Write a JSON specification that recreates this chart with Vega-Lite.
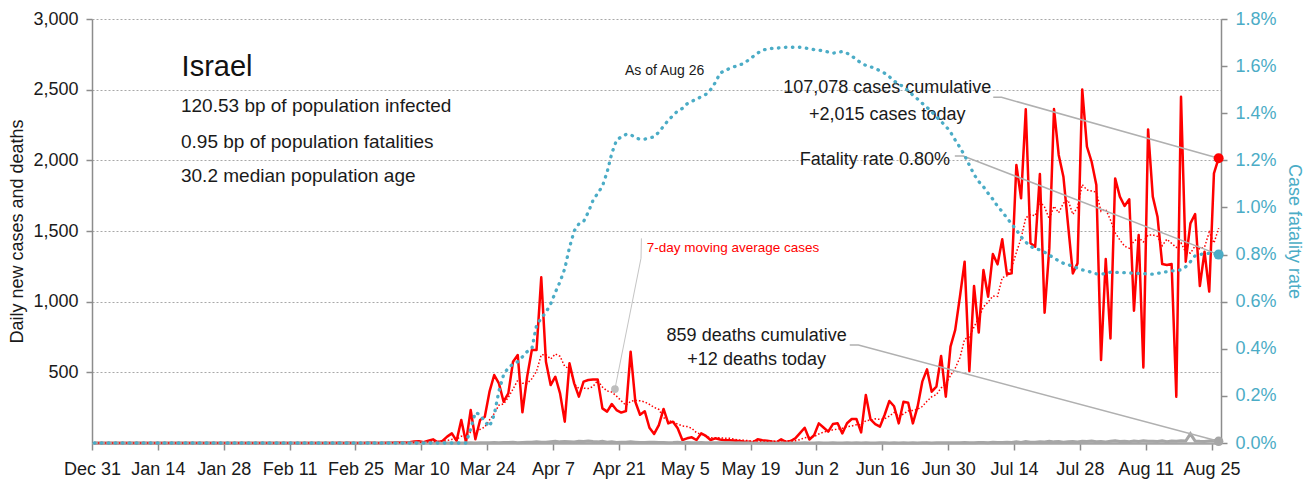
{
"$schema": "https://vega.github.io/schema/vega-lite/v6.json",
"width": 1129, "height": 424,
"autosize": {"type": "none"},
"padding": {"left": 92, "top": 19, "right": 91, "bottom": 42},
"background": "white",
"config": {"font": "Liberation Sans", "view": {"stroke": null}},
"datasets": {
"daily": [
{"date":"2019-12-31T12:00Z","cases":0,"deaths":0,"cfr":0},
{"date":"2020-01-01T12:00Z","cases":0,"deaths":0,"cfr":0},
{"date":"2020-01-02T12:00Z","cases":0,"deaths":0,"cfr":0},
{"date":"2020-01-03T12:00Z","cases":0,"deaths":0,"cfr":0},
{"date":"2020-01-04T12:00Z","cases":0,"deaths":0,"cfr":0},
{"date":"2020-01-05T12:00Z","cases":0,"deaths":0,"cfr":0},
{"date":"2020-01-06T12:00Z","cases":0,"deaths":0,"cfr":0},
{"date":"2020-01-07T12:00Z","cases":0,"deaths":0,"cfr":0},
{"date":"2020-01-08T12:00Z","cases":0,"deaths":0,"cfr":0},
{"date":"2020-01-09T12:00Z","cases":0,"deaths":0,"cfr":0},
{"date":"2020-01-10T12:00Z","cases":0,"deaths":0,"cfr":0},
{"date":"2020-01-11T12:00Z","cases":0,"deaths":0,"cfr":0},
{"date":"2020-01-12T12:00Z","cases":0,"deaths":0,"cfr":0},
{"date":"2020-01-13T12:00Z","cases":0,"deaths":0,"cfr":0},
{"date":"2020-01-14T12:00Z","cases":0,"deaths":0,"cfr":0},
{"date":"2020-01-15T12:00Z","cases":0,"deaths":0,"cfr":0},
{"date":"2020-01-16T12:00Z","cases":0,"deaths":0,"cfr":0},
{"date":"2020-01-17T12:00Z","cases":0,"deaths":0,"cfr":0},
{"date":"2020-01-18T12:00Z","cases":0,"deaths":0,"cfr":0},
{"date":"2020-01-19T12:00Z","cases":0,"deaths":0,"cfr":0},
{"date":"2020-01-20T12:00Z","cases":0,"deaths":0,"cfr":0},
{"date":"2020-01-21T12:00Z","cases":0,"deaths":0,"cfr":0},
{"date":"2020-01-22T12:00Z","cases":0,"deaths":0,"cfr":0},
{"date":"2020-01-23T12:00Z","cases":0,"deaths":0,"cfr":0},
{"date":"2020-01-24T12:00Z","cases":0,"deaths":0,"cfr":0},
{"date":"2020-01-25T12:00Z","cases":0,"deaths":0,"cfr":0},
{"date":"2020-01-26T12:00Z","cases":0,"deaths":0,"cfr":0},
{"date":"2020-01-27T12:00Z","cases":0,"deaths":0,"cfr":0},
{"date":"2020-01-28T12:00Z","cases":0,"deaths":0,"cfr":0},
{"date":"2020-01-29T12:00Z","cases":0,"deaths":0,"cfr":0},
{"date":"2020-01-30T12:00Z","cases":0,"deaths":0,"cfr":0},
{"date":"2020-01-31T12:00Z","cases":0,"deaths":0,"cfr":0},
{"date":"2020-02-01T12:00Z","cases":0,"deaths":0,"cfr":0},
{"date":"2020-02-02T12:00Z","cases":0,"deaths":0,"cfr":0},
{"date":"2020-02-03T12:00Z","cases":0,"deaths":0,"cfr":0},
{"date":"2020-02-04T12:00Z","cases":0,"deaths":0,"cfr":0},
{"date":"2020-02-05T12:00Z","cases":0,"deaths":0,"cfr":0},
{"date":"2020-02-06T12:00Z","cases":0,"deaths":0,"cfr":0},
{"date":"2020-02-07T12:00Z","cases":0,"deaths":0,"cfr":0},
{"date":"2020-02-08T12:00Z","cases":0,"deaths":0,"cfr":0},
{"date":"2020-02-09T12:00Z","cases":0,"deaths":0,"cfr":0},
{"date":"2020-02-10T12:00Z","cases":0,"deaths":0,"cfr":0},
{"date":"2020-02-11T12:00Z","cases":0,"deaths":0,"cfr":0},
{"date":"2020-02-12T12:00Z","cases":0,"deaths":0,"cfr":0},
{"date":"2020-02-13T12:00Z","cases":0,"deaths":0,"cfr":0},
{"date":"2020-02-14T12:00Z","cases":0,"deaths":0,"cfr":0},
{"date":"2020-02-15T12:00Z","cases":0,"deaths":0,"cfr":0},
{"date":"2020-02-16T12:00Z","cases":0,"deaths":0,"cfr":0},
{"date":"2020-02-17T12:00Z","cases":0,"deaths":0,"cfr":0},
{"date":"2020-02-18T12:00Z","cases":0,"deaths":0,"cfr":0},
{"date":"2020-02-19T12:00Z","cases":0,"deaths":0,"cfr":0},
{"date":"2020-02-20T12:00Z","cases":0,"deaths":0,"cfr":0},
{"date":"2020-02-21T12:00Z","cases":1,"deaths":0,"cfr":0},
{"date":"2020-02-22T12:00Z","cases":0,"deaths":0,"cfr":0},
{"date":"2020-02-23T12:00Z","cases":1,"deaths":0,"cfr":0},
{"date":"2020-02-24T12:00Z","cases":0,"deaths":0,"cfr":0},
{"date":"2020-02-25T12:00Z","cases":0,"deaths":0,"cfr":0},
{"date":"2020-02-26T12:00Z","cases":0,"deaths":0,"cfr":0},
{"date":"2020-02-27T12:00Z","cases":1,"deaths":0,"cfr":0},
{"date":"2020-02-28T12:00Z","cases":2,"deaths":0,"cfr":0},
{"date":"2020-02-29T12:00Z","cases":0,"deaths":0,"cfr":0},
{"date":"2020-03-01T12:00Z","cases":0,"deaths":0,"cfr":0},
{"date":"2020-03-02T12:00Z","cases":2,"deaths":0,"cfr":0},
{"date":"2020-03-03T12:00Z","cases":2,"deaths":0,"cfr":0},
{"date":"2020-03-04T12:00Z","cases":3,"deaths":0,"cfr":0},
{"date":"2020-03-05T12:00Z","cases":4,"deaths":0,"cfr":0},
{"date":"2020-03-06T12:00Z","cases":3,"deaths":0,"cfr":0},
{"date":"2020-03-07T12:00Z","cases":6,"deaths":0,"cfr":0},
{"date":"2020-03-08T12:00Z","cases":10,"deaths":0,"cfr":0},
{"date":"2020-03-09T12:00Z","cases":12,"deaths":0,"cfr":0},
{"date":"2020-03-10T12:00Z","cases":5,"deaths":0,"cfr":0},
{"date":"2020-03-11T12:00Z","cases":16,"deaths":0,"cfr":0},
{"date":"2020-03-12T12:00Z","cases":26,"deaths":0,"cfr":0},
{"date":"2020-03-13T12:00Z","cases":5,"deaths":0,"cfr":0},
{"date":"2020-03-14T12:00Z","cases":14,"deaths":0,"cfr":0},
{"date":"2020-03-15T12:00Z","cases":45,"deaths":0,"cfr":0},
{"date":"2020-03-16T12:00Z","cases":68,"deaths":0,"cfr":0},
{"date":"2020-03-17T12:00Z","cases":15,"deaths":0,"cfr":0},
{"date":"2020-03-18T12:00Z","cases":163,"deaths":0,"cfr":0},
{"date":"2020-03-19T12:00Z","cases":5,"deaths":0,"cfr":0},
{"date":"2020-03-20T12:00Z","cases":233,"deaths":1,"cfr":0.06},
{"date":"2020-03-21T12:00Z","cases":26,"deaths":0,"cfr":0.13},
{"date":"2020-03-22T12:00Z","cases":163,"deaths":1,"cfr":0.12},
{"date":"2020-03-23T12:00Z","cases":186,"deaths":2,"cfr":0.09},
{"date":"2020-03-24T12:00Z","cases":363,"deaths":2,"cfr":0.07},
{"date":"2020-03-25T12:00Z","cases":481,"deaths":3,"cfr":0.12},
{"date":"2020-03-26T12:00Z","cases":422,"deaths":2,"cfr":0.22},
{"date":"2020-03-27T12:00Z","cases":292,"deaths":4,"cfr":0.29},
{"date":"2020-03-28T12:00Z","cases":351,"deaths":3,"cfr":0.32},
{"date":"2020-03-29T12:00Z","cases":575,"deaths":5,"cfr":0.335},
{"date":"2020-03-30T12:00Z","cases":623,"deaths":2,"cfr":0.345},
{"date":"2020-03-31T12:00Z","cases":217,"deaths":4,"cfr":0.366},
{"date":"2020-04-01T12:00Z","cases":469,"deaths":6,"cfr":0.388},
{"date":"2020-04-02T12:00Z","cases":658,"deaths":5,"cfr":0.4},
{"date":"2020-04-03T12:00Z","cases":658,"deaths":9,"cfr":0.5},
{"date":"2020-04-04T12:00Z","cases":1172,"deaths":5,"cfr":0.53},
{"date":"2020-04-05T12:00Z","cases":575,"deaths":6,"cfr":0.555},
{"date":"2020-04-06T12:00Z","cases":410,"deaths":9,"cfr":0.59},
{"date":"2020-04-07T12:00Z","cases":469,"deaths":12,"cfr":0.64},
{"date":"2020-04-08T12:00Z","cases":351,"deaths":8,"cfr":0.685},
{"date":"2020-04-09T12:00Z","cases":151,"deaths":10,"cfr":0.74},
{"date":"2020-04-10T12:00Z","cases":564,"deaths":9,"cfr":0.83},
{"date":"2020-04-11T12:00Z","cases":422,"deaths":7,"cfr":0.9},
{"date":"2020-04-12T12:00Z","cases":328,"deaths":12,"cfr":0.93},
{"date":"2020-04-13T12:00Z","cases":434,"deaths":10,"cfr":0.94},
{"date":"2020-04-14T12:00Z","cases":446,"deaths":14,"cfr":0.98},
{"date":"2020-04-15T12:00Z","cases":450,"deaths":10,"cfr":1.03},
{"date":"2020-04-16T12:00Z","cases":450,"deaths":8,"cfr":1.06},
{"date":"2020-04-17T12:00Z","cases":245,"deaths":12,"cfr":1.09},
{"date":"2020-04-18T12:00Z","cases":222,"deaths":6,"cfr":1.15},
{"date":"2020-04-19T12:00Z","cases":276,"deaths":9,"cfr":1.23},
{"date":"2020-04-20T12:00Z","cases":233,"deaths":4,"cfr":1.285},
{"date":"2020-04-21T12:00Z","cases":215,"deaths":5,"cfr":1.3},
{"date":"2020-04-22T12:00Z","cases":226,"deaths":5,"cfr":1.31},
{"date":"2020-04-23T12:00Z","cases":646,"deaths":8,"cfr":1.31},
{"date":"2020-04-24T12:00Z","cases":292,"deaths":6,"cfr":1.295},
{"date":"2020-04-25T12:00Z","cases":200,"deaths":4,"cfr":1.29},
{"date":"2020-04-26T12:00Z","cases":225,"deaths":4,"cfr":1.29},
{"date":"2020-04-27T12:00Z","cases":108,"deaths":5,"cfr":1.295},
{"date":"2020-04-28T12:00Z","cases":64,"deaths":6,"cfr":1.3},
{"date":"2020-04-29T12:00Z","cases":127,"deaths":3,"cfr":1.32},
{"date":"2020-04-30T12:00Z","cases":241,"deaths":4,"cfr":1.345},
{"date":"2020-05-01T12:00Z","cases":139,"deaths":2,"cfr":1.37},
{"date":"2020-05-02T12:00Z","cases":151,"deaths":3,"cfr":1.39},
{"date":"2020-05-03T12:00Z","cases":104,"deaths":5,"cfr":1.41},
{"date":"2020-05-04T12:00Z","cases":21,"deaths":1,"cfr":1.42},
{"date":"2020-05-05T12:00Z","cases":33,"deaths":3,"cfr":1.44},
{"date":"2020-05-06T12:00Z","cases":40,"deaths":2,"cfr":1.45},
{"date":"2020-05-07T12:00Z","cases":21,"deaths":2,"cfr":1.46},
{"date":"2020-05-08T12:00Z","cases":68,"deaths":3,"cfr":1.47},
{"date":"2020-05-09T12:00Z","cases":50,"deaths":1,"cfr":1.48},
{"date":"2020-05-10T12:00Z","cases":21,"deaths":1,"cfr":1.5},
{"date":"2020-05-11T12:00Z","cases":33,"deaths":1,"cfr":1.53},
{"date":"2020-05-12T12:00Z","cases":25,"deaths":2,"cfr":1.57},
{"date":"2020-05-13T12:00Z","cases":20,"deaths":1,"cfr":1.58},
{"date":"2020-05-14T12:00Z","cases":20,"deaths":1,"cfr":1.59},
{"date":"2020-05-15T12:00Z","cases":18,"deaths":0,"cfr":1.597},
{"date":"2020-05-16T12:00Z","cases":14,"deaths":1,"cfr":1.605},
{"date":"2020-05-17T12:00Z","cases":10,"deaths":0,"cfr":1.61},
{"date":"2020-05-18T12:00Z","cases":8,"deaths":1,"cfr":1.625},
{"date":"2020-05-19T12:00Z","cases":5,"deaths":1,"cfr":1.64},
{"date":"2020-05-20T12:00Z","cases":26,"deaths":0,"cfr":1.655},
{"date":"2020-05-21T12:00Z","cases":19,"deaths":1,"cfr":1.668},
{"date":"2020-05-22T12:00Z","cases":16,"deaths":0,"cfr":1.672},
{"date":"2020-05-23T12:00Z","cases":10,"deaths":0,"cfr":1.675},
{"date":"2020-05-24T12:00Z","cases":5,"deaths":1,"cfr":1.676},
{"date":"2020-05-25T12:00Z","cases":26,"deaths":0,"cfr":1.678},
{"date":"2020-05-26T12:00Z","cases":8,"deaths":0,"cfr":1.68},
{"date":"2020-05-27T12:00Z","cases":14,"deaths":1,"cfr":1.68},
{"date":"2020-05-28T12:00Z","cases":33,"deaths":0,"cfr":1.68},
{"date":"2020-05-29T12:00Z","cases":70,"deaths":0,"cfr":1.68},
{"date":"2020-05-30T12:00Z","cases":108,"deaths":1,"cfr":1.677},
{"date":"2020-05-31T12:00Z","cases":25,"deaths":0,"cfr":1.674},
{"date":"2020-06-01T12:00Z","cases":55,"deaths":0,"cfr":1.67},
{"date":"2020-06-02T12:00Z","cases":139,"deaths":1,"cfr":1.668},
{"date":"2020-06-03T12:00Z","cases":110,"deaths":0,"cfr":1.664},
{"date":"2020-06-04T12:00Z","cases":80,"deaths":0,"cfr":1.66},
{"date":"2020-06-05T12:00Z","cases":134,"deaths":1,"cfr":1.655},
{"date":"2020-06-06T12:00Z","cases":140,"deaths":0,"cfr":1.658},
{"date":"2020-06-07T12:00Z","cases":68,"deaths":0,"cfr":1.662},
{"date":"2020-06-08T12:00Z","cases":140,"deaths":1,"cfr":1.655},
{"date":"2020-06-09T12:00Z","cases":170,"deaths":0,"cfr":1.643},
{"date":"2020-06-10T12:00Z","cases":170,"deaths":1,"cfr":1.628},
{"date":"2020-06-11T12:00Z","cases":75,"deaths":0,"cfr":1.613},
{"date":"2020-06-12T12:00Z","cases":340,"deaths":1,"cfr":1.603},
{"date":"2020-06-13T12:00Z","cases":167,"deaths":0,"cfr":1.597},
{"date":"2020-06-14T12:00Z","cases":134,"deaths":0,"cfr":1.59},
{"date":"2020-06-15T12:00Z","cases":116,"deaths":1,"cfr":1.58},
{"date":"2020-06-16T12:00Z","cases":200,"deaths":1,"cfr":1.57},
{"date":"2020-06-17T12:00Z","cases":297,"deaths":0,"cfr":1.555},
{"date":"2020-06-18T12:00Z","cases":260,"deaths":1,"cfr":1.537},
{"date":"2020-06-19T12:00Z","cases":139,"deaths":0,"cfr":1.523},
{"date":"2020-06-20T12:00Z","cases":292,"deaths":1,"cfr":1.513},
{"date":"2020-06-21T12:00Z","cases":285,"deaths":0,"cfr":1.495},
{"date":"2020-06-22T12:00Z","cases":139,"deaths":1,"cfr":1.477},
{"date":"2020-06-23T12:00Z","cases":257,"deaths":0,"cfr":1.46},
{"date":"2020-06-24T12:00Z","cases":434,"deaths":1,"cfr":1.442},
{"date":"2020-06-25T12:00Z","cases":521,"deaths":1,"cfr":1.425},
{"date":"2020-06-26T12:00Z","cases":363,"deaths":0,"cfr":1.406},
{"date":"2020-06-27T12:00Z","cases":399,"deaths":1,"cfr":1.385},
{"date":"2020-06-28T12:00Z","cases":616,"deaths":1,"cfr":1.365},
{"date":"2020-06-29T12:00Z","cases":328,"deaths":2,"cfr":1.345},
{"date":"2020-06-30T12:00Z","cases":682,"deaths":1,"cfr":1.32},
{"date":"2020-07-01T12:00Z","cases":800,"deaths":2,"cfr":1.286},
{"date":"2020-07-02T12:00Z","cases":1035,"deaths":1,"cfr":1.255},
{"date":"2020-07-03T12:00Z","cases":1283,"deaths":3,"cfr":1.22},
{"date":"2020-07-04T12:00Z","cases":509,"deaths":2,"cfr":1.18},
{"date":"2020-07-05T12:00Z","cases":1111,"deaths":1,"cfr":1.14},
{"date":"2020-07-06T12:00Z","cases":781,"deaths":3,"cfr":1.11},
{"date":"2020-07-07T12:00Z","cases":1224,"deaths":4,"cfr":1.088},
{"date":"2020-07-08T12:00Z","cases":1035,"deaths":2,"cfr":1.06},
{"date":"2020-07-09T12:00Z","cases":1337,"deaths":5,"cfr":1.035},
{"date":"2020-07-10T12:00Z","cases":1264,"deaths":3,"cfr":1.005},
{"date":"2020-07-11T12:00Z","cases":1441,"deaths":4,"cfr":0.982},
{"date":"2020-07-12T12:00Z","cases":1193,"deaths":6,"cfr":0.955},
{"date":"2020-07-13T12:00Z","cases":1200,"deaths":3,"cfr":0.93},
{"date":"2020-07-14T12:00Z","cases":1967,"deaths":8,"cfr":0.905},
{"date":"2020-07-15T12:00Z","cases":1731,"deaths":4,"cfr":0.875},
{"date":"2020-07-16T12:00Z","cases":2361,"deaths":10,"cfr":0.853},
{"date":"2020-07-17T12:00Z","cases":1413,"deaths":6,"cfr":0.835},
{"date":"2020-07-18T12:00Z","cases":1389,"deaths":5,"cfr":0.825},
{"date":"2020-07-19T12:00Z","cases":1903,"deaths":9,"cfr":0.82},
{"date":"2020-07-20T12:00Z","cases":922,"deaths":7,"cfr":0.81},
{"date":"2020-07-21T12:00Z","cases":1377,"deaths":12,"cfr":0.798},
{"date":"2020-07-22T12:00Z","cases":2363,"deaths":8,"cfr":0.785},
{"date":"2020-07-23T12:00Z","cases":2038,"deaths":10,"cfr":0.773},
{"date":"2020-07-24T12:00Z","cases":1884,"deaths":6,"cfr":0.763},
{"date":"2020-07-25T12:00Z","cases":1540,"deaths":9,"cfr":0.757},
{"date":"2020-07-26T12:00Z","cases":1200,"deaths":11,"cfr":0.75},
{"date":"2020-07-27T12:00Z","cases":1271,"deaths":7,"cfr":0.742},
{"date":"2020-07-28T12:00Z","cases":2502,"deaths":12,"cfr":0.735},
{"date":"2020-07-29T12:00Z","cases":2097,"deaths":10,"cfr":0.731},
{"date":"2020-07-30T12:00Z","cases":1990,"deaths":14,"cfr":0.724},
{"date":"2020-07-31T12:00Z","cases":1825,"deaths":9,"cfr":0.718},
{"date":"2020-08-01T12:00Z","cases":587,"deaths":11,"cfr":0.716},
{"date":"2020-08-02T12:00Z","cases":1302,"deaths":8,"cfr":0.72},
{"date":"2020-08-03T12:00Z","cases":740,"deaths":12,"cfr":0.725},
{"date":"2020-08-04T12:00Z","cases":1872,"deaths":15,"cfr":0.725},
{"date":"2020-08-05T12:00Z","cases":1743,"deaths":10,"cfr":0.724},
{"date":"2020-08-06T12:00Z","cases":1677,"deaths":13,"cfr":0.723},
{"date":"2020-08-07T12:00Z","cases":1724,"deaths":9,"cfr":0.722},
{"date":"2020-08-08T12:00Z","cases":936,"deaths":14,"cfr":0.721},
{"date":"2020-08-09T12:00Z","cases":1472,"deaths":11,"cfr":0.72},
{"date":"2020-08-10T12:00Z","cases":535,"deaths":16,"cfr":0.719},
{"date":"2020-08-11T12:00Z","cases":2219,"deaths":12,"cfr":0.718},
{"date":"2020-08-12T12:00Z","cases":1743,"deaths":13,"cfr":0.717},
{"date":"2020-08-13T12:00Z","cases":1601,"deaths":10,"cfr":0.72},
{"date":"2020-08-14T12:00Z","cases":1266,"deaths":15,"cfr":0.724},
{"date":"2020-08-15T12:00Z","cases":1259,"deaths":9,"cfr":0.727},
{"date":"2020-08-16T12:00Z","cases":1266,"deaths":14,"cfr":0.73},
{"date":"2020-08-17T12:00Z","cases":328,"deaths":12,"cfr":0.732},
{"date":"2020-08-18T12:00Z","cases":2450,"deaths":16,"cfr":0.735},
{"date":"2020-08-19T12:00Z","cases":1283,"deaths":14,"cfr":0.748},
{"date":"2020-08-20T12:00Z","cases":1554,"deaths":65,"cfr":0.77},
{"date":"2020-08-21T12:00Z","cases":1620,"deaths":14,"cfr":0.795},
{"date":"2020-08-22T12:00Z","cases":1111,"deaths":12,"cfr":0.8},
{"date":"2020-08-23T12:00Z","cases":1354,"deaths":11,"cfr":0.804},
{"date":"2020-08-24T12:00Z","cases":1071,"deaths":15,"cfr":0.805},
{"date":"2020-08-25T12:00Z","cases":1908,"deaths":18,"cfr":0.803},
{"date":"2020-08-26T12:00Z","cases":2015,"deaths":12,"cfr":0.8}
],
"ann": [
{"k":"title","t":"Israel","date":"2020-01-19T01:00Z","v":2597},
{"k":"stat","t":"120.53 bp of population infected","date":"2020-01-18T22:00Z","v":2340},
{"k":"stat","t":"0.95 bp of population fatalities","date":"2020-01-18T22:00Z","v":2085},
{"k":"stat","t":"30.2 median population age","date":"2020-01-18T22:00Z","v":1849},
{"k":"asof","t":"As of Aug 26","date":"2020-04-22T07:00Z","v":2604},
{"k":"center","t":"107,078 cases cumulative","date":"2020-06-17T01:00Z","v":2476},
{"k":"center","t":"+2,015 cases today","date":"2020-06-17T01:00Z","v":2285},
{"k":"center","t":"859 deaths cumulative","date":"2020-05-20T07:00Z","v":724},
{"k":"center","t":"+12 deaths today","date":"2020-05-20T07:00Z","v":552},
{"k":"right","t":"Fatality rate 0.80%","date":"2020-06-30T09:00Z","v":1967},
{"k":"ma","t":"7-day moving average cases","date":"2020-04-26T22:00Z","v":1353},
{"k":"conn","g":1,"o":1,"date":"2020-07-09T14:00Z","v":2446},
{"k":"conn","g":1,"o":2,"date":"2020-07-11T08:00Z","v":2446},
{"k":"conn","g":1,"o":3,"date":"2020-08-26T12:00Z","v":2015},
{"k":"conn","g":2,"o":1,"date":"2020-07-01T10:00Z","v":2031},
{"k":"conn","g":2,"o":2,"date":"2020-07-03T05:00Z","v":2031},
{"k":"conn","g":2,"o":3,"date":"2020-08-26T12:00Z","v":1333},
{"k":"conn","g":3,"o":1,"date":"2020-06-09T02:00Z","v":693},
{"k":"conn","g":3,"o":2,"date":"2020-06-10T22:00Z","v":693},
{"k":"conn","g":3,"o":3,"date":"2020-08-26T12:00Z","v":12},
{"k":"connm","g":4,"o":1,"date":"2020-04-25T19:00Z","v":1448},
{"k":"connm","g":4,"o":2,"date":"2020-04-25T17:00Z","v":1307},
{"k":"connm","g":4,"o":3,"date":"2020-04-20T04:00Z","v":382},
{"k":"dotr","date":"2020-08-26T12:00Z","v":2015},
{"k":"dotb","date":"2020-08-26T12:00Z","v":1333},
{"k":"dotg","date":"2020-08-26T12:00Z","v":12},
{"k":"dotm","date":"2020-04-20T04:00Z","v":382}
]
},
"encoding": {
"x": {"field": "date", "type": "temporal",
 "scale": {"type": "utc", "domain": [{"year":2019,"month":12,"date":31,"utc":true},{"year":2020,"month":8,"date":27,"utc":true}]},
 "axis": {"title": null, "grid": false,
  "values": [{"year":2019,"month":12,"date":31,"utc":true},{"year":2020,"month":1,"date":14,"utc":true},{"year":2020,"month":1,"date":28,"utc":true},{"year":2020,"month":2,"date":11,"utc":true},{"year":2020,"month":2,"date":25,"utc":true},{"year":2020,"month":3,"date":10,"utc":true},{"year":2020,"month":3,"date":24,"utc":true},{"year":2020,"month":4,"date":7,"utc":true},{"year":2020,"month":4,"date":21,"utc":true},{"year":2020,"month":5,"date":5,"utc":true},{"year":2020,"month":5,"date":19,"utc":true},{"year":2020,"month":6,"date":2,"utc":true},{"year":2020,"month":6,"date":16,"utc":true},{"year":2020,"month":6,"date":30,"utc":true},{"year":2020,"month":7,"date":14,"utc":true},{"year":2020,"month":7,"date":28,"utc":true},{"year":2020,"month":8,"date":11,"utc":true},{"year":2020,"month":8,"date":25,"utc":true}],
  "labelExpr": "utcFormat(datum.value, '%b %-d')",
  "domainColor": "#a6a6a6", "domainWidth": 2.5, "tickColor": "#8c8c8c", "tickWidth": 1.5, "tickSize": 7,
  "labelFontSize": 18, "labelColor": "#1a1a1a", "labelPadding": 10, "labelFlush": false, "labelOverlap": false}}
},
"layer": [
{"encoding": {"y": {"field": "v", "type": "quantitative",
   "scale": {"domain": [0, 3000], "nice": false},
   "axis": {"title": "Daily new cases and deaths", "values": [500,1000,1500,2000,2500,3000],
    "labelExpr": "format(datum.value, ',.0f')",
    "grid": true, "gridColor": "#a8a8a8", "gridDash": [2,2], "gridWidth": 1,
    "domainColor": "#8c8c8c", "domainWidth": 1.5, "tickColor": "#8c8c8c", "tickWidth": 1.5, "tickSize": 6,
    "labelFontSize": 18, "labelColor": "#1a1a1a", "labelPadding": 8,
    "titleFontSize": 18, "titleColor": "#1a1a1a", "titleFontWeight": "normal", "titlePadding": 6}}},
 "layer": [
 {"data": {"name": "daily"},
  "transform": [{"fold": ["cases"], "as": ["key", "v"]}],
  "mark": {"type": "line", "color": "#ff0000", "strokeWidth": 2.5, "strokeJoin": "round"}},
 {"data": {"name": "daily"},
  "transform": [{"fold": ["deaths"], "as": ["key", "v"]}],
  "mark": {"type": "line", "color": "#a6a6a6", "strokeWidth": 3}},
 {"data": {"name": "daily"},
  "transform": [{"window": [{"op": "mean", "field": "cases", "as": "v"}], "sort": [{"field": "date"}], "frame": [-6, 0]}],
  "mark": {"type": "line", "color": "#ff0000", "strokeWidth": 1.5, "strokeDash": [1.5, 2]}},
 {"data": {"name": "ann"}, "transform": [{"filter": "datum.k === 'conn'"}],
  "mark": {"type": "line", "color": "#b0b0b0", "strokeWidth": 1.5},
  "encoding": {"detail": {"field": "g"}, "order": {"field": "o"}}},
 {"data": {"name": "ann"}, "transform": [{"filter": "datum.k === 'connm'"}],
  "mark": {"type": "line", "color": "#c4c4c4", "strokeWidth": 1},
  "encoding": {"order": {"field": "o"}}},
 {"data": {"name": "ann"}, "transform": [{"filter": "datum.k === 'dotr'"}],
  "mark": {"type": "circle", "color": "#ff0000", "size": 100, "opacity": 1}},
 {"data": {"name": "ann"}, "transform": [{"filter": "datum.k === 'dotb'"}],
  "mark": {"type": "circle", "color": "#4bacc6", "size": 100, "opacity": 1}},
 {"data": {"name": "ann"}, "transform": [{"filter": "datum.k === 'dotg'"}],
  "mark": {"type": "circle", "color": "#a6a6a6", "size": 90, "opacity": 1}},
 {"data": {"name": "ann"}, "transform": [{"filter": "datum.k === 'dotm'"}],
  "mark": {"type": "circle", "color": "#bdbdbd", "size": 60, "opacity": 1}},
 {"data": {"name": "ann"}, "transform": [{"filter": "datum.k === 'title'"}],
  "mark": {"type": "text", "align": "left", "baseline": "alphabetic", "fontSize": 29, "color": "#111111"},
  "encoding": {"text": {"field": "t"}}},
 {"data": {"name": "ann"}, "transform": [{"filter": "datum.k === 'stat'"}],
  "mark": {"type": "text", "align": "left", "baseline": "alphabetic", "fontSize": 19, "color": "#1a1a1a"},
  "encoding": {"text": {"field": "t"}}},
 {"data": {"name": "ann"}, "transform": [{"filter": "datum.k === 'asof'"}],
  "mark": {"type": "text", "align": "left", "baseline": "alphabetic", "fontSize": 14, "color": "#1a1a1a"},
  "encoding": {"text": {"field": "t"}}},
 {"data": {"name": "ann"}, "transform": [{"filter": "datum.k === 'center'"}],
  "mark": {"type": "text", "align": "center", "baseline": "alphabetic", "fontSize": 18, "color": "#1a1a1a"},
  "encoding": {"text": {"field": "t"}}},
 {"data": {"name": "ann"}, "transform": [{"filter": "datum.k === 'right'"}],
  "mark": {"type": "text", "align": "right", "baseline": "alphabetic", "fontSize": 18, "color": "#1a1a1a"},
  "encoding": {"text": {"field": "t"}}},
 {"data": {"name": "ann"}, "transform": [{"filter": "datum.k === 'ma'"}],
  "mark": {"type": "text", "align": "left", "baseline": "alphabetic", "fontSize": 13.5, "color": "#ff0000"},
  "encoding": {"text": {"field": "t"}}}
]},
{"layer": [
 {"data": {"name": "daily"},
  "mark": {"type": "line", "color": "#4bacc6", "strokeWidth": 3.3, "strokeDash": [0.5, 6.5], "strokeCap": "round"},
  "encoding": {"y": {"field": "cfr", "type": "quantitative",
   "scale": {"domain": [0, 1.8], "nice": false},
   "axis": {"orient": "right", "title": "Case fatality rate", "values": [0,0.2,0.4,0.6,0.8,1.0,1.2,1.4,1.6,1.8],
    "labelExpr": "format(datum.value, '.1f') + '%'", "grid": false,
    "domainColor": "#8c8c8c", "domainWidth": 1.5, "tickColor": "#8c8c8c", "tickWidth": 1.5, "tickSize": 6,
    "labelFontSize": 18, "labelColor": "#4bacc6", "labelPadding": 8,
    "titleFontSize": 18, "titleColor": "#4bacc6", "titleFontWeight": "normal", "titlePadding": 8}}}}
]}
],
"resolve": {"scale": {"y": "independent"}, "axis": {"y": "independent"}}
}
